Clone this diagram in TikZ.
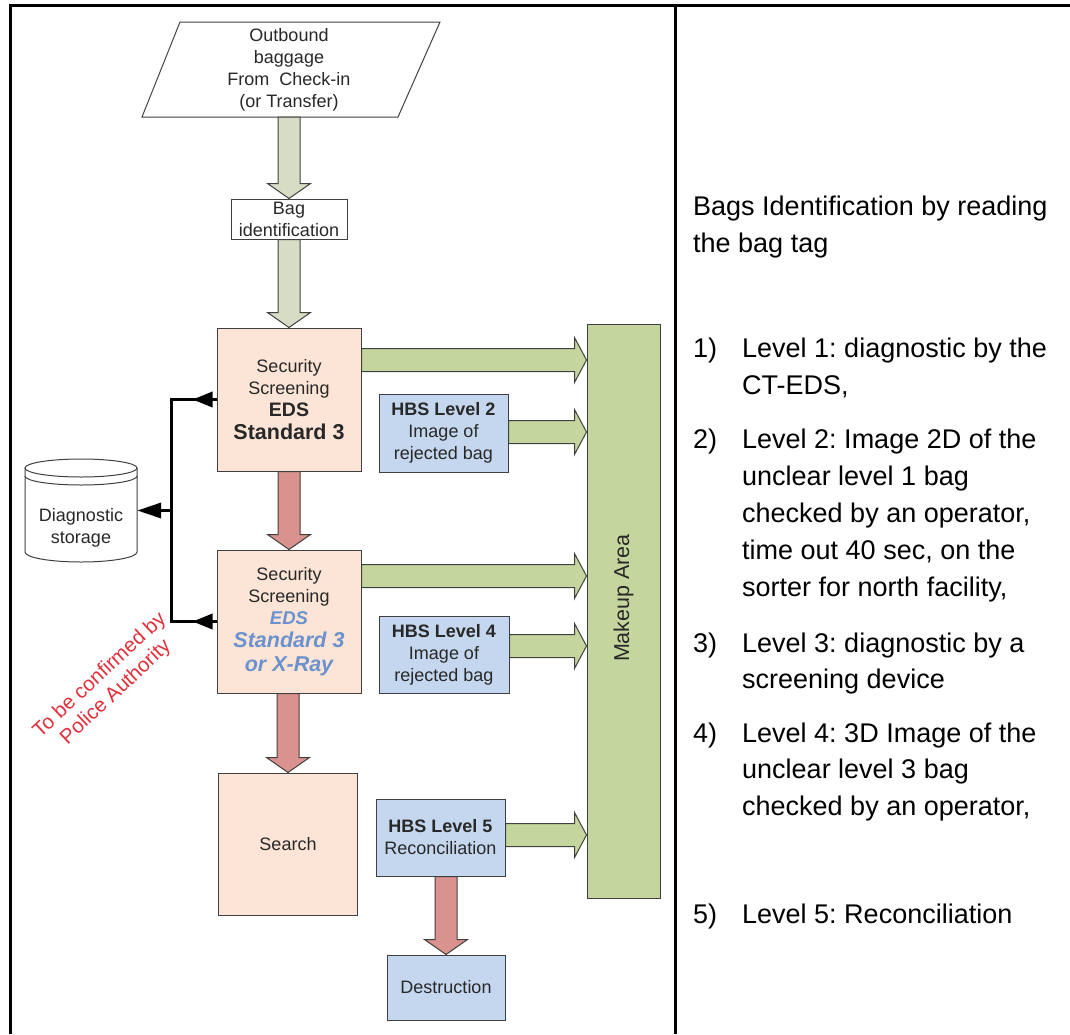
\documentclass[tikz,border=0pt]{standalone}
\usepackage{fontspec}
\setmainfont{Liberation Sans}
\frenchspacing
\usetikzlibrary{calc,arrows.meta,decorations.markings}
\definecolor{grayarrow}{RGB}{215,221,197}
\definecolor{peach}{RGB}{252,229,214}
\definecolor{redarrow}{RGB}{217,146,141}
\definecolor{greenfill}{RGB}{196,214,158}
\definecolor{bluefill}{RGB}{197,215,238}
\definecolor{bluetext}{RGB}{108,146,206}
\definecolor{redtext}{RGB}{226,48,58}
\definecolor{edge}{RGB}{64,64,64}
\definecolor{dtextcol}{RGB}{40,40,40}

\newcommand\fatdown[3]{\draw[fatline, fill=#3] let \p1=(#1), \p2=(#2) in
  (\x2-11pt,\y1) -- (\x2+11pt,\y1) -- (\x2+11pt,\y2+15pt) -- (\x2+21.5pt,\y2+15pt)
  -- (\x2,\y2) -- (\x2-21.5pt,\y2+15pt) -- (\x2-11pt,\y2+15pt) -- cycle;}
\newcommand\fatright[3]{\draw[fatline, fill=#3] let \p1=(#1), \p2=(#2) in
  (\x1,\y1+11.5pt) -- (\x2-12pt,\y1+11.5pt) -- (\x2-12pt,\y1+22.5pt) -- (\x2,\y1)
  -- (\x2-12pt,\y1-22.5pt) -- (\x2-12pt,\y1-11.5pt) -- (\x1,\y1-11.5pt) -- cycle;}

\begin{document}
\begin{tikzpicture}[x=1pt,y=-1pt,
  boxedge/.style={draw=edge, line width=1pt},
  dtext/.style={font=\fontsize{18}{22}\selectfont, text=dtextcol, align=center, inner sep=0pt},
  pbox/.style={boxedge, fill=peach, dtext},
  bbox/.style={boxedge, fill=bluefill, dtext},
  fatline/.style={draw=edge, line width=1pt, line join=miter},
  conn/.style={line width=3.5pt, draw=black},
  rtext/.style={font=\fontsize{27}{37}\selectfont, anchor=base west, inner sep=0pt, text=black}]
\useasboundingbox (0,0) rectangle (1070,1034);
% table frame
\draw[line width=3pt] (10,1034) -- (10,5) -- (1070,5);
\draw[line width=3pt] (675,5) -- (675,1034);

% source parallelogram
\draw[boxedge, fill=white] (180,22) -- (440,22) -- (398,117) -- (142,117) -- cycle;
\node[dtext] (src) at (289,69.5) {Outbound\\baggage\\From~~Check-in\\(or Transfer)};
\coordinate (srcb) at (289,117);

% boxes
\node[boxedge, fill=white, dtext, minimum width=116pt, minimum height=40pt] (bagid) at (289,219) {Bag\\identification};
\node[pbox, minimum width=144pt, minimum height=143pt] (sec1) at (289,399.5)
  {Security\\Screening\\{\fontsize{19.5}{22}\selectfont\bfseries EDS}\\[1pt]{\fontsize{21.5}{24}\selectfont\bfseries Standard 3}};
\node[pbox, minimum width=144pt, minimum height=143pt] (sec2) at (289,621.5)
  {Security\\Screening\\{\color{bluetext}\fontsize{18.5}{22}\selectfont\bfseries\itshape EDS}\\[1pt]{\color{bluetext}\fontsize{21.5}{24}\selectfont\bfseries\itshape Standard 3}\\[2pt]{\color{bluetext}\fontsize{21.5}{24}\selectfont\bfseries\itshape or X-Ray}};
\node[pbox, minimum width=139pt, minimum height=142pt] (search) at (288,844) {Search};
\node[bbox, minimum width=129pt, minimum height=78pt] (hbs2) at (443.5,433) {\textbf{HBS Level 2}\\Image of\\rejected bag};
\node[bbox, minimum width=130pt, minimum height=77pt] (hbs4) at (444,654.5) {\textbf{HBS Level 4}\\Image of\\rejected bag};
\node[bbox, minimum width=129pt, minimum height=77pt] (hbs5) at (440.5,837.5) {\textbf{HBS Level 5}\\Reconciliation};
\node[bbox, minimum width=118pt, minimum height=65pt] (destr) at (446,987.5) {Destruction};
\node[boxedge, fill=greenfill, minimum width=73pt, minimum height=574pt] (makeup) at (623.5,611) {};
\node[dtext, rotate=90, font=\fontsize{21.5}{24}\selectfont] (mtext) at (623.5,598) {Makeup Area};

% storage cylinder
\draw[boxedge, fill=white] (25,468) -- (25,552) arc[start angle=180, end angle=360, x radius=56pt, y radius=10pt] -- (137,468);
\draw[boxedge, fill=white] (81,468) ellipse [x radius=56pt, y radius=9pt];
\draw[boxedge] (25,476) arc[start angle=180, end angle=360, x radius=56pt, y radius=9pt];
\node[minimum width=112pt, minimum height=103pt] (store) at (81,510.5) {};
\node[dtext] (storetxt) at (81,527.5) {Diagnostic\\storage};

% black connectors
\coordinate (j1) at ([xshift=-45pt]sec1.west);
\coordinate (j2) at ([xshift=-45pt]sec2.west);
\coordinate (j3) at ($(j1)!0.5!(j2)$);
\draw[conn, postaction={decorate}, decoration={markings,
   mark=at position 24pt with {\arrow{Triangle[length=20pt,width=15pt]}},
   mark=at position -24pt with {\arrowreversed{Triangle[length=20pt,width=15pt]}}}]
   (sec1.west) -- (j1) -- (j2) -- (sec2.west);
\draw[conn, -{Triangle[length=24pt,width=15pt]}] (j3) -- (store.east);

% note
\node[font=\fontsize{20.5}{23.5}\selectfont, text=redtext, align=center, rotate=43, inner sep=0pt] (note) at (108,684) {To be confirmed by\\Police Authority};

% fat arrows
\fatdown{srcb}{bagid.north}{grayarrow}
\fatdown{bagid.south}{sec1.north}{grayarrow}
\fatdown{sec1.south}{sec2.north}{redarrow}
\fatdown{sec2.south}{search.north}{redarrow}
\fatdown{hbs5.south}{destr.north}{redarrow}
\fatright{[yshift=39.5pt]sec1.east}{makeup.west}{greenfill}
\fatright{[yshift=1pt]hbs2.east}{makeup.west}{greenfill}
\fatright{[yshift=45.5pt]sec2.east}{makeup.west}{greenfill}
\fatright{[yshift=8.5pt]hbs4.east}{makeup.west}{greenfill}
\fatright{[yshift=2.5pt]hbs5.east}{makeup.west}{greenfill}

% right column
\node[rtext] (h1) at (693,215) {Bags Identification by reading};
\node[rtext] (h2) at (693,252) {the bag tag};
\node[rtext] (n1) at (693,357) {1)};
\node[rtext] (a1) at (742,357) {Level 1: diagnostic by the};
\node[rtext] (a2) at (742,394) {CT-EDS,};
\node[rtext] (n2) at (693,448) {2)};
\node[rtext] (b1) at (742,448) {Level 2: Image 2D of the};
\node[rtext] (b2) at (742,485) {unclear level 1 bag};
\node[rtext] (b3) at (742,522) {checked by an operator,};
\node[rtext] (b4) at (742,559) {time out 40 sec, on the};
\node[rtext] (b5) at (742,596) {sorter for north facility,};
\node[rtext] (n3) at (693,652) {3)};
\node[rtext] (c1) at (742,652) {Level 3: diagnostic by a};
\node[rtext] (c2) at (742,688) {screening device};
\node[rtext] (n4) at (693,742) {4)};
\node[rtext] (d1) at (742,742) {Level 4: 3D Image of the};
\node[rtext] (d2) at (742,778) {unclear level 3 bag};
\node[rtext] (d3) at (742,815) {checked by an operator,};
\node[rtext] (n5) at (693,923) {5)};
\node[rtext] (e1) at (742,923) {Level 5: Reconciliation};
\end{tikzpicture}
\end{document}
